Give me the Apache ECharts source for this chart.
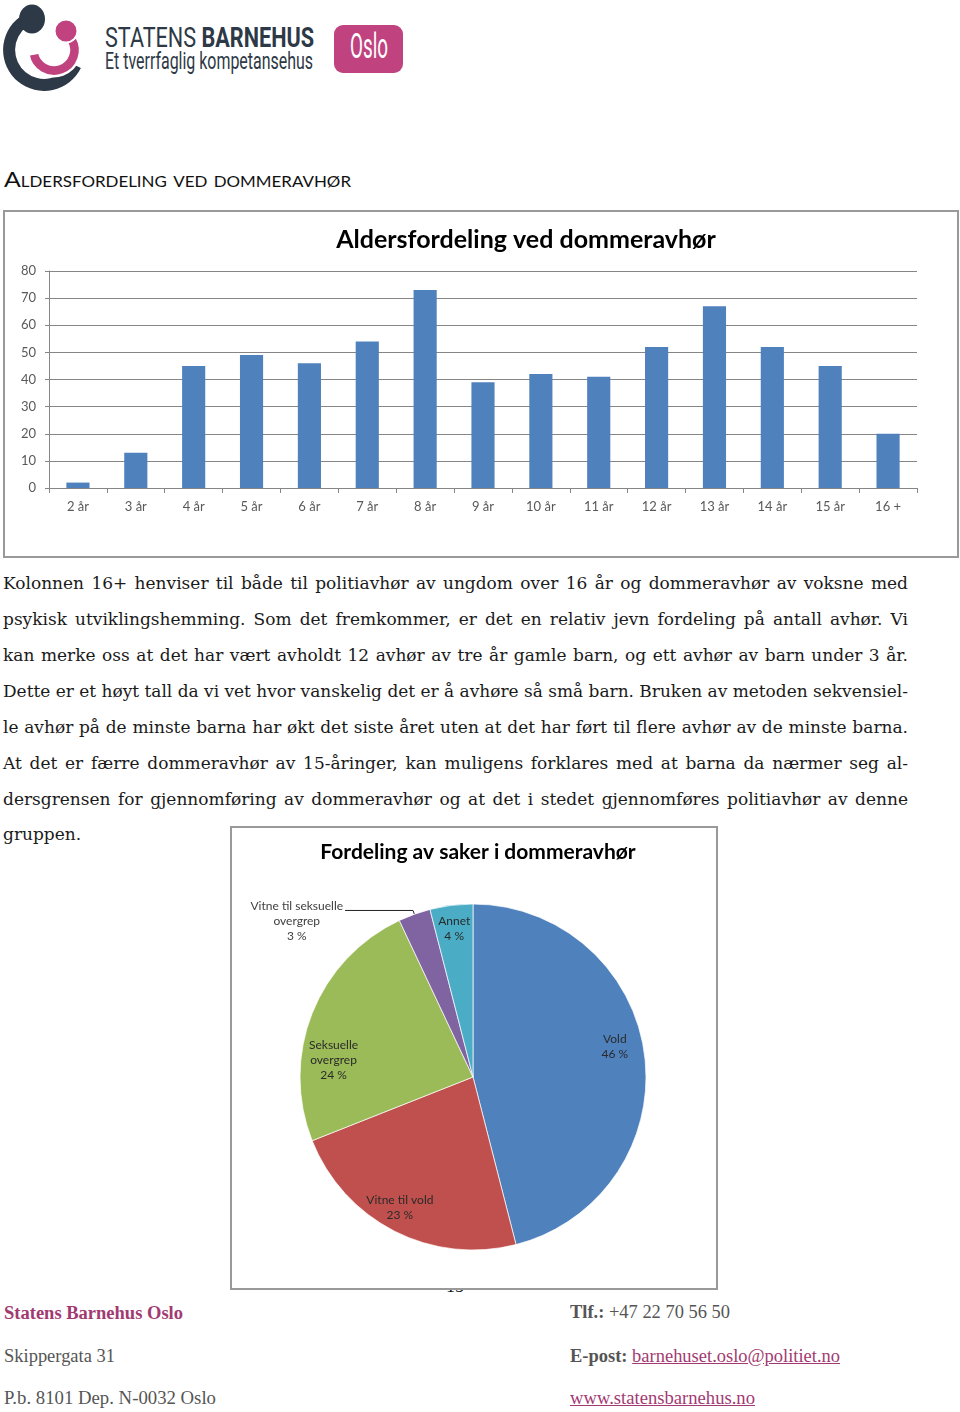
<!DOCTYPE html>
<html><head><meta charset="utf-8">
<script src="https://cdn.jsdelivr.net/npm/echarts@6/dist/echarts.min.js"></script>
<style>
html,body{margin:0;padding:0;background:#fff;}
#page{position:relative;width:960px;height:1412px;overflow:hidden;background:#fff;}
.abs{position:absolute;white-space:nowrap;}
.fit{display:inline-block;transform-origin:0 50%;}
.body{font-family:"DejaVu Serif",serif;font-size:17px;line-height:36px;color:#1a1a1a;left:3px;}
.foot{font-family:"Liberation Serif",serif;font-size:18.5px;line-height:24px;color:#555;}
.pink{color:#A23A72;}
.foot a{color:#A23A72;text-decoration:underline;}
.box{position:absolute;box-sizing:border-box;border:2px solid #999;background:#fff;}
</style>
</head><body>
<div id="page">
  <!-- logo -->
  <svg class="abs" style="left:0;top:0" width="92" height="92" viewBox="0 0 92 92">
    <path d="M 19.4 17.2 A 41 41 0 1 0 80.9 68 L 70.1 62.8 A 29 29 0 1 1 26.6 26.8 Z" fill="#2D3946"/>
    <ellipse cx="32" cy="19" rx="13" ry="14.5" fill="#2D3946"/>
    <path d="M 76.5 37 A 26 26 0 1 1 28.4 54.5 L 39.2 52.6 A 15 15 0 1 0 67 42.5 Z" fill="#C0437F" stroke="#fff" stroke-width="2.5"/>
    <circle cx="66" cy="31" r="11.5" fill="#C0437F" stroke="#fff" stroke-width="2"/>
  </svg>
  <div class="abs" style="left:105px;top:24px;font-family:Roboto;font-size:28px;line-height:28px;color:#2D3946;"><span class="fit" data-w="209">STATENS <b>BARNEHUS</b></span></div>
  <div class="abs" style="left:105px;top:50px;font-family:Roboto;font-size:23px;line-height:23px;color:#2D3946;"><span class="fit" data-w="208">Et tverrfaglig kompetansehus</span></div>
  <div class="abs" style="left:334px;top:25px;width:69px;height:48px;border-radius:9px;background:#C0437F;"></div>
  <div class="abs" style="left:350px;top:32px;font-family:Roboto;font-size:35px;line-height:30px;color:#fff;"><span class="fit" data-w="38">Oslo</span></div>

  <div class="abs" style="left:4px;top:167px;font-family:Lato;font-size:22px;line-height:24px;color:#111;font-variant:small-caps;"><span class="fit" data-w="347">Aldersfordeling ved dommeravhør</span></div>

  <div class="box" style="left:3px;top:210px;width:956px;height:348px;"></div>
  <div id="bar" class="abs" style="left:3px;top:210px;width:956px;height:348px;"></div>

  <div class="abs body" style="top:565px"><span class="just" data-w="905">Kolonnen 16+ henviser til både til politiavhør av ungdom over 16 år og dommeravhør av voksne med</span></div>
  <div class="abs body" style="top:601px"><span class="just" data-w="905">psykisk utviklingshemming. Som det fremkommer, er det en relativ jevn fordeling på antall avhør. Vi</span></div>
  <div class="abs body" style="top:637px"><span class="just" data-w="905">kan merke oss at det har vært avholdt 12 avhør av tre år gamle barn, og ett avhør av barn under 3 år.</span></div>
  <div class="abs body" style="top:673px"><span class="just" data-w="905">Dette er et høyt tall da vi vet hvor vanskelig det er å avhøre så små barn. Bruken av metoden sekvensiel-</span></div>
  <div class="abs body" style="top:709px"><span class="just" data-w="905">le avhør på de minste barna har økt det siste året uten at det har ført til flere avhør av de minste barna.</span></div>
  <div class="abs body" style="top:745px"><span class="just" data-w="905">At det er færre dommeravhør av 15-åringer, kan muligens forklares med at barna da nærmer seg al-</span></div>
  <div class="abs body" style="top:781px"><span class="just" data-w="905">dersgrensen for gjennomføring av dommeravhør og at det i stedet gjennomføres politiavhør av denne</span></div>
  <div class="abs body" style="top:816px"><span>gruppen.</span></div>

  <div class="abs" style="left:446px;top:1277px;font-family:'Liberation Serif';font-size:18px;line-height:18px;color:#111;">15</div>
  <div class="box" style="left:230px;top:826px;width:488px;height:464px;"></div>
  <div id="pie" class="abs" style="left:230px;top:826px;width:488px;height:464px;"></div>

  <div class="abs foot pink" style="left:4px;top:1301px;font-weight:bold;"><span class="fit" data-w="179">Statens Barnehus Oslo</span></div>
  <div class="abs foot" style="left:4px;top:1344px;"><span class="fit" data-w="111">Skippergata 31</span></div>
  <div class="abs foot" style="left:4px;top:1386px;"><span class="fit" data-w="212">P.b. 8101 Dep. N-0032 Oslo</span></div>
  <div class="abs foot" style="left:570px;top:1300px;"><span class="fit" data-w="160"><b>Tlf.:</b> +47 22 70 56 50</span></div>
  <div class="abs foot" style="left:570px;top:1344px;"><span class="fit" data-w="270"><b>E-post:</b> <a>barnehuset.oslo@politiet.no</a></span></div>
  <div class="abs foot" style="left:570px;top:1386px;"><span class="fit" data-w="185"><a>www.statensbarnehus.no</a></span></div>
</div>

<script>
// ---- data ----
const ageCategories = ['2 år','3 år','4 år','5 år','6 år','7 år','8 år','9 år','10 år','11 år','12 år','13 år','14 år','15 år','16 +'];
const ageCounts = [2, 13, 45, 49, 46, 54, 73, 39, 42, 41, 52, 67, 52, 45, 20];
const yMin = 0, yMax = 80, yStep = 10;

const caseCategories = ['Vold', 'Vitne til vold', 'Seksuelle overgrep', 'Vitne til seksuelle overgrep', 'Annet'];
const caseShares = [46, 23, 24, 3, 4];
const caseLabels = ['Vold', 'Vitne til vold', 'Seksuelle\novergrep', 'Vitne til seksuelle\novergrep', 'Annet'];

// ---- text fitting ----
document.querySelectorAll('.fit').forEach(el => {
  const w = el.getBoundingClientRect().width;
  el.style.transform = 'scaleX(' + (parseFloat(el.dataset.w) / w) + ')';
});
document.querySelectorAll('.just').forEach(el => {
  el.style.display = 'inline-block';
  el.style.transformOrigin = '0 50%';
  const target = parseFloat(el.dataset.w);
  const w = el.getBoundingClientRect().width;
  const spaces = (el.textContent.match(/ /g) || []).length;
  if (w < target) el.style.wordSpacing = ((target - w) / spaces) + 'px';
  else el.style.transform = 'scaleX(' + (target / w) + ')';
});

// ---- bar chart ----
const axisGray = '#868686';
const bar = echarts.init(document.getElementById('bar'));
bar.setOption({
  animation: false,
  title: {
    text: 'Aldersfordeling ved dommeravhør', left: 518, top: 12, textAlign: 'center',
    textStyle: { fontFamily: 'Lato', fontWeight: 'bold', fontSize: 25, color: '#000' }
  },
  grid: { left: 46, right: 42, top: 61, bottom: 70, containLabel: false },
  xAxis: {
    type: 'category', data: ageCategories, boundaryGap: true,
    axisLine: { show: true, lineStyle: { color: axisGray, width: 1 } },
    axisTick: { show: true, length: 5, alignWithLabel: false, lineStyle: { color: axisGray } },
    axisLabel: { color: '#595959', fontFamily: 'Lato', fontSize: 13, margin: 12, interval: 0 },
    splitLine: { show: false }
  },
  yAxis: {
    type: 'value', min: yMin, max: yMax, interval: yStep,
    axisLine: { show: true, lineStyle: { color: axisGray, width: 1 } },
    axisTick: { show: true, length: 4, lineStyle: { color: axisGray } },
    axisLabel: { color: '#595959', fontFamily: 'Lato', fontSize: 13, margin: 13 },
    splitLine: { show: true, lineStyle: { color: axisGray, width: 1 } }
  },
  series: [{
    type: 'bar', data: ageCounts, barWidth: '40%',
    itemStyle: { color: '#4F81BD' }, silent: true
  }]
});

// ---- pie chart ----
const sliceColors = ['#4F81BD', '#C0504D', '#9BBB59', '#8064A2', '#4BACC6'];
const pie = echarts.init(document.getElementById('pie'));
const pct = p => Math.round(p.percent) + ' %';
pie.setOption({
  animation: false,
  title: {
    text: 'Fordeling av saker i dommeravhør', left: 243, top: 11, textAlign: 'center',
    textStyle: { fontFamily: 'Lato', fontWeight: 'bold', fontSize: 21, color: '#000' }
  },
  series: [
    {
      type: 'pie', center: [243, 251], radius: 173, startAngle: 90, clockwise: true,
      avoidLabelOverlap: false, silent: true,
      itemStyle: { borderColor: '#fff', borderWidth: 0.7 },
      label: { show: false },
      labelLine: { show: false },
      data: caseCategories.map((n, i) => {
        const d = { name: n, value: caseShares[i], itemStyle: { color: sliceColors[i] } };
        if (i === 3) {
          d.label = {
            show: true, position: 'outside', distanceToLabelLine: 2,
            padding: [22, 0, 0, 0],
            formatter: p => caseLabels[p.dataIndex].split('\n').concat([pct(p)]).map(s => '{c|' + s + '}').join('\n'),
            rich: { c: { align: 'center', fontFamily: 'Lato', fontSize: 12, lineHeight: 15, color: '#404040' } }
          };
          d.labelLine = { show: true, length: 4, length2: 68, lineStyle: { color: '#222', width: 1 } };
        }
        return d;
      })
    },
    {
      type: 'pie', center: [243, 251], radius: 294, startAngle: 90, clockwise: true,
      avoidLabelOverlap: false, silent: true, z: 3,
      itemStyle: { color: 'rgba(0,0,0,0)', borderWidth: 0 },
      emphasis: { disabled: true },
      label: {
        show: true, position: 'inside', fontFamily: 'Lato', fontSize: 12, lineHeight: 15, color: '#2a2a2a',
        formatter: p => caseLabels[p.dataIndex] + '\n' + pct(p)
      },
      labelLine: { show: false },
      labelLayout: p => (p.dataIndex === 2 ? { dy: 38 } : p.dataIndex === 0 ? { dy: -12, dx: -7 } : p.dataIndex === 1 ? { dx: -5, dy: -3 } : {}),
      data: caseCategories.map((n, i) => ({
        name: n, value: caseShares[i],
        label: i === 3 ? { show: false } : undefined
      }))
    }
  ]
});
</script>
</body></html>
